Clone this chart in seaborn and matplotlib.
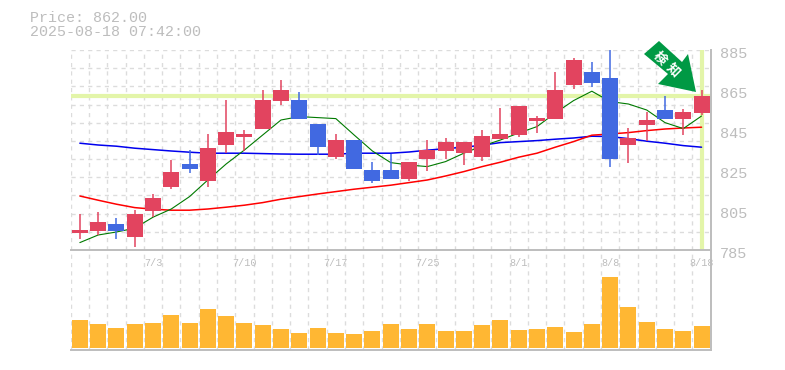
import numpy as np
import pandas as pd
import seaborn as sns
import matplotlib
matplotlib.use('Agg')
import matplotlib.pyplot as plt
from matplotlib.patches import Polygon
from matplotlib.transforms import ScaledTranslation

# datos
price_text = 'Price: 862.00'
time_text = '2025-08-18 07:42:00'
last_price = 862
tick_pos = [4, 9, 14, 19, 24, 29, 34]
tick_labels = ['7/3', '7/10', '7/17', '7/25', '8/1', '8/8', '8/18']
price_ticks = [785, 805, 825, 845, 865, 885]

opens = [793.5, 794.5, 798, 791.5, 804.5, 816.5, 828, 819.5, 837.5, 841.5, 845.5, 859.5,
         860, 848, 831.5, 840, 825, 825, 820.5, 830.5, 834.5, 833.5, 831.5, 840.5, 842.5,
         849.5, 850.5, 867.5, 874, 871, 837.5, 847.5, 855, 850.5, 853.5]
closes = [795, 799, 794.5, 803, 811, 824, 825.5, 836, 844, 843, 860, 865,
          850.5, 836.5, 840, 825.5, 819.5, 820.5, 829, 835, 839, 839, 842, 843, 857,
          851, 865, 880, 868.5, 830.5, 841, 850, 850.5, 854, 862]
highs = [803, 804, 801, 805, 813, 830, 835, 843, 860, 845, 865, 870,
         864, 848, 843, 840, 829, 833, 829, 840, 841, 839, 845, 856, 857,
         852, 874, 881, 879, 885, 846, 854, 862, 855.5, 865]
lows = [790.5, 792.5, 790.5, 786.5, 801.5, 815.5, 823.5, 816.5, 833.5, 834.5, 845.5, 857.5,
        850.5, 832.5, 830.5, 825.5, 818.5, 820.5, 819.5, 824.5, 830.5, 827.5, 829.5, 840.5, 841.5,
        843.5, 850.5, 865.5, 866.5, 826.5, 828.5, 839.5, 850.5, 842.5, 852.5]
volume = [28, 24, 20, 24, 25, 33, 25, 39, 32, 25, 23, 19, 15, 20, 15, 14, 17, 24,
          19, 24, 17, 17, 23, 28, 18, 19, 21, 16, 24, 71, 41, 26, 19, 17, 22]
ma_short = [788.7, 792.5, 794, 795.9, 801.4, 805.5, 811.7, 820, 828, 835, 842.5, 850,
            851.7, 851.2, 850.7, 842.5, 834.5, 828.7, 827.5, 826.7, 829.2, 833.4, 837, 840, 843.5,
            846.7, 853.5, 859.7, 864.4, 859.2, 858, 855, 848.7, 845.7, 852]
ma_mid = [812, 809.9, 807.9, 806.2, 805.4, 804.9, 804.9, 805.5, 806.4, 807.4, 808.7, 810.4,
          811.7, 813, 814.2, 815.4, 816.4, 817.4, 818.7, 820, 822, 824.2, 826.7, 828.9, 831.4,
          833.4, 836.4, 839.2, 842.4, 843, 843.7, 844.7, 845.5, 846, 846.4]
ma_long = [838.4, 837.5, 836.9, 835.9, 835.2, 834.5, 833.9, 833.4, 833.4, 833.4, 833.2, 833,
           832.9, 832.9, 832.9, 833.4, 833.4, 833.4, 834, 834.9, 835.7, 836.4, 837.4, 838.7, 839.2,
           839.7, 840.4, 841, 841.9, 841.7, 840.7, 839.4, 838.4, 837.2, 836.4]

UP = '#E2445F'
DOWN = '#4169E1'
GRIS = '#BDBDBD'
GRID = '#DCDCDC'
LIMA = '#E3F5A9'

sns.set_style('white')
plt.rcParams['font.family'] = ['Liberation Mono', 'DejaVu Sans Mono']

W, H = 785, 370
fig = plt.figure(figsize=(W / 100, H / 100), dpi=100)
# ejes colocados en pixeles
ax_vol = fig.add_axes([70.7 / W, 1 - 350 / H, 640 / W, 100 / H])
ax = fig.add_axes([70.7 / W, 1 - 250 / H, 640 / W, 200 / H], zorder=3)
ax.patch.set_alpha(0)
ax_vol.patch.set_alpha(0)

xs = np.arange(len(closes))
df = pd.DataFrame({'x': xs, 'volume': volume, 'short': ma_short, 'mid': ma_mid, 'long': ma_long})

# volumen
sns.barplot(data=df, x='x', y='volume', color='#FFB733', saturation=1, width=0.88,
            native_scale=True, linewidth=0, ax=ax_vol, zorder=3)
ax_vol.set_ylim(-2, 98)

# lineas de referencia y medias
ax.axhline(last_price, color=LIMA, lw=3, zorder=1)
ax.axvline(xs[-1], color=LIMA, lw=3, zorder=1)
sns.lineplot(data=df, x='x', y='long', color='#0000EE', lw=1.1, ax=ax, zorder=2)
sns.lineplot(data=df, x='x', y='mid', color='#FF0000', lw=1.1, ax=ax, zorder=2)
sns.lineplot(data=df, x='x', y='short', color='#007A00', lw=0.8, ax=ax, zorder=2)

# velas
o = np.array(opens)
c = np.array(closes)
colors = [UP if b >= a else DOWN for a, b in zip(o, c)]
ax.vlines(xs, lows, highs, colors=colors, lw=1.1, zorder=3)
ax.bar(xs, np.abs(c - o), bottom=np.minimum(o, c), width=0.88, color=colors,
       linewidth=0, antialiased=False, zorder=4)

for a in (ax, ax_vol):
    a.set_xlim(-0.5, len(xs) - 0.5)
    a.set_xlabel('')
    a.set_ylabel('')
    a.set_xticks(xs[:-1] + 0.5, minor=True)
    a.grid(True, which='minor', axis='x', color=GRID, lw=1, ls=(0, (3, 3)), zorder=0)
    a.set_axisbelow(True)
    for s in ('top', 'left'):
        a.spines[s].set_visible(False)
    for s in ('bottom', 'right'):
        a.spines[s].set_color(GRIS)
        a.spines[s].set_linewidth(1.4)
    a.tick_params(which='both', length=0)

ax.set_ylim(785, 885)
ax.set_yticks(np.linspace(785, 885, 12)[1:-1], minor=True)
ax.grid(True, which='minor', axis='y', color=GRID, lw=1, ls=(0, (3, 3)), zorder=0)
ax.axhline(885, color=GRID, lw=1, ls=(0, (3, 3)), zorder=0)
ax.axvline(-0.5, color=GRID, lw=1, ls=(0, (3, 3)), zorder=0)
ax_vol.axvline(-0.5, color=GRID, lw=1, ls=(0, (3, 3)), zorder=0)
ax.set_xticks(tick_pos, tick_labels, fontsize=7.3, color=GRIS)
ax.tick_params(axis='x', pad=6)
ax.yaxis.tick_right()
ax.set_yticks(price_ticks, [str(p) for p in price_ticks], fontsize=11, color=GRIS, va='center')
ax.tick_params(axis='y', pad=6.5)
# las etiquetas del eje quedan por debajo de su valor
for lab in ax.get_yticklabels():
    lab.set_transform(lab.get_transform() + ScaledTranslation(0, -4 / 100, fig.dpi_scale_trans))
ax_vol.set_xticks([])
ax_vol.set_yticks([])

fig.text(29.5 / W, 1 - 18 / H, price_text, fontsize=10.8, color=GRIS, va='center')
fig.text(29.5 / W, 1 - 32.5 / H, time_text, fontsize=10.8, color=GRIS, va='center')

# flecha
arrow_px = [(659, 41), (682, 62), (688, 54), (696, 92), (658, 84), (668, 74), (644, 54)]
fig.add_artist(Polygon([(x / W, 1 - y / H) for x, y in arrow_px], closed=True,
                       transform=fig.transFigure, fc='#009944', ec='none', zorder=6))
for ch, cx, cy in [('検', 660, 58), ('知', 673, 70)]:
    fig.text(cx / W, 1 - cy / H, ch, family=['Noto Sans CJK JP', 'DejaVu Sans'], fontsize=9.5,
             fontweight='bold', color='white', rotation=-45, ha='center', va='center', zorder=7)

fig.savefig('out.png', dpi=100)
